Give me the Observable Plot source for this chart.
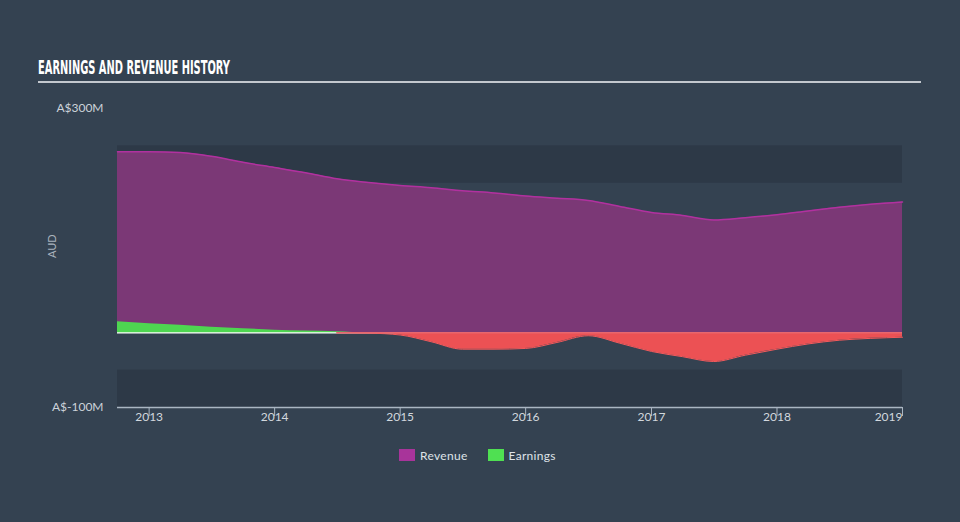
<!DOCTYPE html>
<html>
<head>
<meta charset="utf-8">
<script src="https://cdn.jsdelivr.net/npm/d3@7"></script>
<script src="https://cdn.jsdelivr.net/npm/@observablehq/plot@0.6"></script>
<style>
  html, body { margin: 0; padding: 0; background: #344251; }
  body { width: 960px; height: 522px; overflow: hidden; font-family: Lato, "Open Sans", sans-serif; }
  #title { display: block; }
  #legend { display: flex; justify-content: flex-start; align-items: center; padding-left: 399px; height: 40px; color: #dfe3e8; font-size: 12px; letter-spacing: 0.3px; }
  .item { display: flex; align-items: center; margin-right: 20px; }
  .sw { width: 16px; height: 12px; margin-right: 5px; }
</style>
</head>
<body>
<svg id="title" width="960" height="90">
  <text x="38" y="74" fill="#ffffff" font-family="'DejaVu Sans Condensed', 'DejaVu Sans'" font-weight="bold" font-size="19" textLength="192" lengthAdjust="spacingAndGlyphs">EARNINGS AND REVENUE HISTORY</text>
  <line x1="38" x2="921" y1="82" y2="82" stroke="#c3c8ce" stroke-width="2"/>
</svg>
<div id="chart"></div>
<div id="legend"></div>
<script>
const dates = ["2012-10-01","2013-01-01","2013-04-01","2013-07-01","2013-10-01","2014-01-01","2014-04-01","2014-07-01","2014-10-01","2015-01-01","2015-04-01","2015-07-01","2015-10-01","2016-01-01","2016-04-01","2016-07-01","2016-10-01","2017-01-01","2017-04-01","2017-07-01","2017-10-01","2018-01-01","2018-04-01","2018-07-01","2018-10-01","2019-01-01"];
const revenue = [242,242,241,236,228,221,214,206,201,197,194,190,187,183,180,177,169,161,157,151,154,158,163,168,172,175];
const earnings = [14.7,12,10,7.5,5.5,3.5,2.5,1.5,-0.5,-3,-12,-22,-22,-21,-13,-4,-14,-25,-32,-38.5,-30,-22,-15,-10,-7.5,-6];
const yTicks = [300, -100];
const yTickLabels = ["A$300M", "A$-100M"];
const xYears = [2013, 2014, 2015, 2016, 2017, 2018, 2019];
const bands = [{y1: 200, y2: 250}, {y1: -100, y2: -50}];
const seriesNames = ["Revenue", "Earnings"];
const seriesColors = ["#a8349a", "#4fe052"];

const data = dates.map((d, i) => ({date: new Date(d), revenue: revenue[i], earnings: earnings[i]}));
const negStart = data.findIndex(d => d.earnings < 0) - 1;
const negData = data.slice(Math.max(0, negStart));
const yearDates = xYears.map(y => new Date(`${y}-01-01`));
const midYears = yearDates.slice(0, -1);
const lastYear = yearDates.slice(-1);

const chart = Plot.plot({
  width: 960,
  height: 345,
  marginTop: 18,
  marginBottom: 28,
  marginLeft: 117,
  marginRight: 58,
  style: {background: "transparent", color: "#cdd3da", fontFamily: "Lato, 'Open Sans', sans-serif", fontSize: "12px"},
  x: {type: "utc", domain: [new Date("2012-10-01"), new Date("2019-01-01")]},
  y: {domain: [-100, 300], axis: null},
  marks: [
    Plot.rect(bands, {y1: "y1", y2: "y2", fill: "#2d3947"}),
    Plot.areaY(data, {x: "date", y: "revenue", fill: "#7b3876", curve: "monotone-x"}),
    Plot.lineY(data, {x: "date", y: "revenue", stroke: "#b1319f", strokeWidth: 1.5, curve: "monotone-x"}),
    Plot.ruleY([0], {stroke: "#ffffff", strokeWidth: 1.5}),
    Plot.areaY(data, {x: "date", y: d => Math.max(0, d.earnings), fill: "#4ed651", curve: "monotone-x"}),
    Plot.areaY(data, {x: "date", y: d => Math.min(0, d.earnings), fill: "#ec5154", curve: "monotone-x"}),
    Plot.lineY(negData, {x: "date", y: d => Math.min(0, d.earnings), stroke: "#f65a5c", strokeWidth: 1, curve: "monotone-x"}),
    Plot.ruleY([0], {x1: negData[0].date, x2: data[data.length - 1].date, stroke: "#e8676d", strokeWidth: 1.5}),
    Plot.ruleY([-100], {stroke: "#aab6c2", strokeWidth: 1.5}),
    Plot.axisX({ticks: yearDates, tickSize: 9, stroke: "#aab6c2", tickFormat: () => ""}),
    Plot.text(midYears, {x: d => d, frameAnchor: "bottom", dy: 13, text: d => String(d.getUTCFullYear()), fill: "#d2d8de", fontSize: 12}),
    Plot.text(lastYear, {x: d => d, frameAnchor: "bottom", dy: 13, textAnchor: "end", text: d => String(d.getUTCFullYear()), fill: "#d2d8de", fontSize: 12}),
    Plot.text(yTicks, {y: d => d, frameAnchor: "left", dx: -14, textAnchor: "end", text: (d, i) => yTickLabels[i], fill: "#cdd3da", fontSize: 12}),
    Plot.text(["AUD"], {frameAnchor: "left", dx: -65, rotate: -90, text: d => d, fill: "#aab3bd", fontSize: 11})
  ]
});
document.getElementById("chart").appendChild(chart);

const legend = document.getElementById("legend");
seriesNames.forEach((name, i) => {
  const item = document.createElement("div");
  item.className = "item";
  const sw = document.createElement("div");
  sw.className = "sw";
  sw.style.background = seriesColors[i];
  const label = document.createElement("span");
  label.textContent = name;
  item.appendChild(sw);
  item.appendChild(label);
  legend.appendChild(item);
});
</script>
</body>
</html>
